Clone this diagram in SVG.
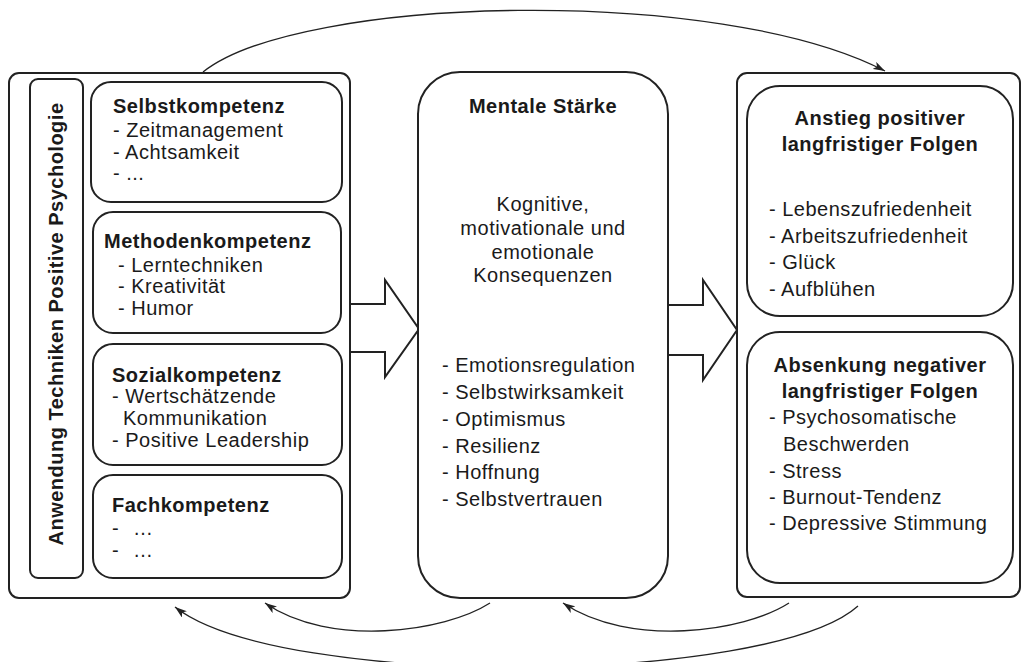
<svg xmlns="http://www.w3.org/2000/svg" width="1022" height="662" viewBox="0 0 1022 662">
<style>
.box{fill:#fff;stroke:#222;stroke-width:2}
.blk{fill:#fff;stroke:#222;stroke-width:2;stroke-linejoin:miter}
.cur{fill:none;stroke:#222;stroke-width:1.3}
text{font-family:"Liberation Sans",Arial,Helvetica,sans-serif;font-size:20px;letter-spacing:0.5px;fill:#1a1a1a}
.b{font-weight:bold}
.c{text-anchor:middle}
</style>
<defs>
<marker id="ah" viewBox="0 0 12 8" refX="12" refY="4" markerWidth="12" markerHeight="8" markerUnits="userSpaceOnUse" orient="auto">
<path d="M0,0 L12,4 L0,8 L3,4 z" fill="#222"/>
</marker>
</defs>
<g id="connectors">
<path class="cur" d="M203,72 C300,-5 720,-15 885,71" marker-end="url(#ah)"/>
<path class="cur" d="M490,603 C445,632 330,648 265,603" marker-end="url(#ah)"/>
<path class="cur" d="M789,603 C744,632 630,648 563,603" marker-end="url(#ah)"/>
<path class="cur" d="M858,606 C770,685 280,690 175,607" marker-end="url(#ah)"/>
</g>
<g id="left-panel">
<rect class="box" x="9" y="73" width="341" height="525" rx="10"/>
<g id="label-vertical">
<rect class="box" x="30" y="79" width="53" height="499" rx="8"/>
<text class="b c" transform="translate(63,324) rotate(-90)">Anwendung Techniken Positive Psychologie</text>
</g>
<g id="selbstkompetenz">
<rect class="box" x="91" y="82" width="251" height="120" rx="20"/>
<text class="b" x="113" y="113">Selbstkompetenz</text>
<text x="113" y="137">- Zeitmanagement</text>
<text x="113" y="159">- Achtsamkeit</text>
<text x="113" y="180">- ...</text>
</g>
<g id="methodenkompetenz">
<rect class="box" x="93" y="212" width="248" height="121" rx="20"/>
<text class="b" x="104" y="248">Methodenkompetenz</text>
<text x="118" y="272">- Lerntechniken</text>
<text x="118" y="293">- Kreativität</text>
<text x="118" y="315">- Humor</text>
</g>
<g id="sozialkompetenz">
<rect class="box" x="93" y="344" width="249" height="121" rx="20"/>
<text class="b" x="112" y="382">Sozialkompetenz</text>
<text x="112" y="403">- Wertschätzende</text>
<text x="123" y="425">Kommunikation</text>
<text x="112" y="447">- Positive Leadership</text>
</g>
<g id="fachkompetenz">
<rect class="box" x="93" y="475" width="249" height="103" rx="20"/>
<text class="b" x="112" y="512">Fachkompetenz</text>
<text x="112" y="535">-</text><text x="133" y="535">…</text>
<text x="112" y="557">-</text><text x="133" y="557">…</text>
</g>
</g>
<g id="arrow-left">
<polygon class="blk" points="350,304 385,304 385,280 419,329 385,377 385,352 350,352"/>
</g>
<g id="mentale-staerke">
<rect class="box" x="418" y="72" width="250" height="526" rx="42"/>
<text class="b c" x="543" y="113">Mentale Stärke</text>
<text class="c" x="543" y="211">Kognitive,</text>
<text class="c" x="543" y="235">motivationale und</text>
<text class="c" x="543" y="259">emotionale</text>
<text class="c" x="543" y="282">Konsequenzen</text>
<text x="442" y="372">- Emotionsregulation</text>
<text x="442" y="399">- Selbstwirksamkeit</text>
<text x="442" y="426">- Optimismus</text>
<text x="442" y="453">- Resilienz</text>
<text x="442" y="479">- Hoffnung</text>
<text x="442" y="506">- Selbstvertrauen</text>
</g>
<g id="arrow-right">
<polygon class="blk" points="668,305 703,305 703,280 737,330 703,380 703,355 668,355"/>
</g>
<g id="right-panel">
<rect class="box" x="737" y="73" width="283" height="524" rx="10"/>
<g id="anstieg">
<rect class="box" x="747" y="86" width="266" height="230" rx="33"/>
<text class="b c" x="880" y="125">Anstieg positiver</text>
<text class="b c" x="880" y="151">langfristiger Folgen</text>
<text x="769" y="216">- Lebenszufriedenheit</text>
<text x="769" y="243">- Arbeitszufriedenheit</text>
<text x="769" y="269">- Glück</text>
<text x="769" y="296">- Aufblühen</text>
</g>
<g id="absenkung">
<rect class="box" x="747" y="332" width="266" height="251" rx="33"/>
<text class="b c" x="880" y="372">Absenkung negativer</text>
<text class="b c" x="880" y="398">langfristiger Folgen</text>
<text x="769" y="424">- Psychosomatische</text>
<text x="783" y="451">Beschwerden</text>
<text x="769" y="478">- Stress</text>
<text x="769" y="504">- Burnout-Tendenz</text>
<text x="769" y="530">- Depressive Stimmung</text>
</g>
</g>
</svg>
